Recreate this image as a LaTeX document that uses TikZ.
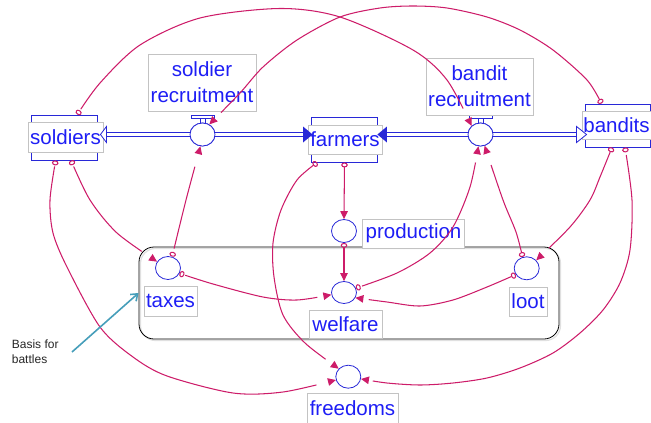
\documentclass[tikz,border=0pt]{standalone}
\usepackage{fontspec}
\setmainfont{Liberation Sans}
\usetikzlibrary{arrows.meta,shapes.geometric,calc,bending}
\definecolor{vblue}{RGB}{40,40,215}
\definecolor{tblue}{RGB}{30,30,245}
\definecolor{vpink}{RGB}{205,28,105}
\definecolor{lgray}{RGB}{195,195,195}
\definecolor{tealarrow}{RGB}{70,158,186}
\begin{document}
\begin{tikzpicture}[x=1pt,y=-1pt,
  stock/.style={draw=vblue, line width=0.9pt, minimum width=66pt, minimum height=45pt, inner sep=0pt},
  lab/.style={draw=lgray, line width=0.6pt, fill=white, text=tblue, inner sep=0pt, font=\fontsize{20.5}{26}\selectfont, align=center},
  aux/.style={ellipse, draw=vblue, line width=0.8pt, fill=white, minimum width=25pt, minimum height=23pt, inner sep=0pt},
  conn/.style={draw=vpink, line width=1.05pt, {Circle[open,length=5pt,width=6.5pt]}-{Triangle[length=8pt,width=7.5pt]}},
  pipe/.style={draw=vblue, double=white, double distance=2.4pt, line width=0.9pt},
  bar/.style={draw=vblue, line width=0.8pt},
  pipehead/.style={draw=vblue, line width=0.8pt, fill=white},
  pipefill/.style={fill=vblue},
]
\useasboundingbox (0,0) rectangle (651,423);
% group box with faint shadow
\draw[black!12, line width=1.2pt, rounded corners=15pt] (140.5,248.5) rectangle (560.5,340.5);
\node[draw=black, line width=0.8pt, rounded corners=15pt, minimum width=420pt, minimum height=92pt, inner sep=0pt] (group) at (349,293) {};

% stocks
\node[stock] (soldiers) at (64,137.5) {};
\node[stock] (farmers) at (344.5,139.5) {};
\node[stock, minimum width=65pt, minimum height=43pt] (bandits) at (617.5,125.5) {};
\node[lab, minimum width=75pt, minimum height=30pt] (soldiersL) at (65.5,137) {soldiers};
\node[lab, minimum width=74pt, minimum height=29pt] (farmersL) at (345,139.5) {farmers};
\node[lab, minimum width=69pt, minimum height=28pt] (banditsL) at (616.5,125) {bandits};

% valves
\node[aux] (srv) at (202.5,134.5) {};
\node[aux] (brv) at (480.5,134.5) {};

% pipes
\draw[pipe] ($(soldiers.east |- srv.west)+(9,0)$) -- (srv.west);
\draw[pipe] (srv.east) -- ($(farmers.west |- srv.west)+(-8,0)$);
\draw[pipe] ($(farmers.east |- brv.west)+(9,0)$) -- (brv.west);
\draw[pipe] (brv.east) -- ($(bandits.west |- brv.west)+(-9,0)$);
\draw[pipehead] ($(soldiers.east |- srv.west)+(3,0)$) -- ++(6,-8) -- ++(0,16) -- cycle;
\fill[pipefill] ($(farmers.west |- srv.west)+(1.5,0)$) -- ++(-9.5,-8) -- ++(0,16) -- cycle;
\fill[pipefill] ($(farmers.east |- brv.west)+(-0.5,0)$) -- ++(9.5,-8) -- ++(0,16) -- cycle;
\draw[pipehead] ($(bandits.west |- brv.west)+(2,0)$) -- ++(-10,-8) -- ++(0,16) -- cycle;

% valve bodies drawn again on top of pipes
\node[aux] at (srv) {};
\node[aux] at (brv) {};
\foreach \v in {srv,brv}{
  \draw[bar] ($(\v.north)+(-11.5,-7)$) rectangle ($(\v.north)+(12,-4.5)$);
  \draw[bar] ($(\v.north)+(-2.5,-4.5)$) -- ($(\v.north)+(-2.5,0)$)
             ($(\v.north)+(2.5,-4.5)$) -- ($(\v.north)+(2.5,0)$);
}

% auxiliaries
\node[aux] (taxes) at (168,268) {};
\node[aux] (production) at (344,231) {};
\node[aux, minimum height=22pt] (welfare) at (344,292.5) {};
\node[aux] (loot) at (526.7,268.3) {};
\node[aux] (freedoms) at (348.3,376.7) {};

% labels
\node[lab, minimum width=108pt, minimum height=57pt] (srvL) at (202,82.5) {soldier\\recruitment};
\node[lab, minimum width=107pt, minimum height=57pt] (brvL) at (479.5,86.5) {bandit\\recruitment};
\node[lab, minimum width=53pt, minimum height=30pt] (taxesL) at (170.5,301) {taxes};
\node[lab, minimum width=102pt, minimum height=29pt] (productionL) at (413.5,233.5) {production};
\node[lab, minimum width=73pt, minimum height=28pt] (welfareL) at (345.5,324.5) {welfare};
\node[lab, minimum width=38pt, minimum height=29pt] (lootL) at (528,301.5) {loot};
\node[lab, minimum width=91pt, minimum height=30pt] (freedomsL) at (352.5,408) {freedoms};

% connectors
\draw[conn] plot[smooth] coordinates {(soldiers.60) (100,83) (140,45) (200,18) (280,8.5) (340,17) (413,50) (447,80) (brv.136)};
\draw[conn] plot[smooth] coordinates {(bandits.126) (587,80) (553,50) (520,30) (487,17) (447,8) (413,6) (380,8) (340,17) (297,40) (263,67) (240,93) (srv.56)};
\draw[conn] plot[smooth] coordinates {(soldiers.-110) (50,200) (53,233) (67,267) (100,327) (133,357) (167,376) (233,393) (283,392) (freedoms.195)};
\draw[conn] plot[smooth] coordinates {(soldiers.-73) (90,200) (117,233) (taxes.150)};
\draw[conn] plot[smooth] coordinates {(taxes.70) (186,200) (srv.-100)};
\draw[conn] plot[smooth] coordinates {(taxes.-25) (213,284) (263,297) (297,300) (welfare.190)};
\draw[conn] plot[smooth] coordinates {(farmers.-140) (297,180) (281,210) (273,243) (274,277) (283,315) (305,343) (freedoms.140)};
\draw[conn] (farmers.south) -- (production.north);
\draw[conn] (production.south) -- (welfare.north);
\draw[conn] plot[smooth] coordinates {(welfare.20) (397,273) (430,253) (453,227) (470,187) (brv.-100)};
\draw[conn] plot[smooth] coordinates {(loot.110) (516,232) (503,200) (brv.-70)};
\draw[conn] plot[smooth] coordinates {(loot.-150) (487,287) (453,300) (420,306) (387,302) (welfare.-25)};
\draw[conn] plot[smooth] coordinates {(bandits.-104) (600,177) (590,200) (570,227) (loot.40)};
\draw[conn] plot[smooth] coordinates {(bandits.-71) (632,200) (630,250) (620,283) (603,310) (580,333) (553,353) (520,368) (487,378) (453,383) (420,385) (387,383) (freedoms.-10)};

% annotation
\node[anchor=north west, align=left, inner sep=0pt, text=black!85, font=\fontsize{12}{15}\selectfont] (basis) at (11.7,339.5) {Basis for\\battles};
\coordinate (basisStart) at (72,352);
\draw[tealarrow, line width=1.6pt, -{Straight Barb[length=6pt,width=9pt]}] (basisStart) -- (group.west);
\end{tikzpicture}
\end{document}
